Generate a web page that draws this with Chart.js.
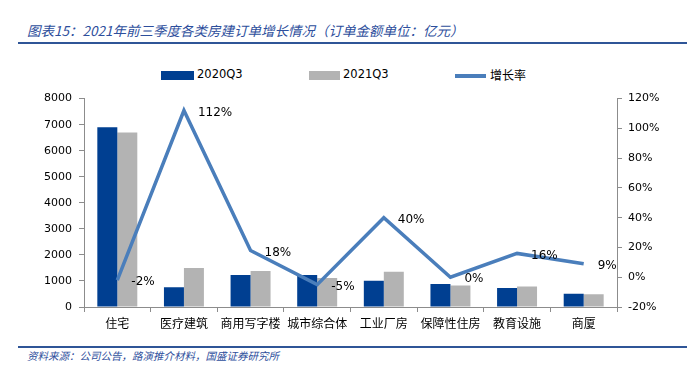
<!DOCTYPE html>
<html>
<head>
<meta charset="utf-8">
<script src="https://cdn.jsdelivr.net/npm/chart.js@4.4.0/dist/chart.umd.min.js"></script>
<style>
    body { margin: 0; background: #fff; width: 687px; height: 371px; position: relative; overflow: hidden; }
    .title { position: absolute; left: 27px; top: 20px; font: italic 13.5px "Noto Sans CJK SC", sans-serif; color: #2D4E9C; white-space: nowrap; }
    .rule { position: absolute; left: 18px; right: 0; height: 2px; background: #2F5597; }
    .source { position: absolute; left: 27px; font: italic 10.5px "Noto Sans CJK SC", sans-serif; color: #2D4E9C; white-space: nowrap; }
    .legend { position: absolute; top: 66px; font: 11.5px "DejaVu Sans", sans-serif; color: #000; }
    .legend span { position: absolute; white-space: nowrap; }
    #wrap { position: absolute; left: 0; top: 85px; width: 687px; height: 260px; }
</style>
</head>
<body>
<div class="title">图表15：2021年前三季度各类房建订单增长情况（订单金额单位：亿元）</div>
<div class="rule" style="top:42px"></div>

<div class="legend">
    <span style="left:161px;top:5px;width:33px;height:9px;background:#003F91;"></span>
    <span style="left:197px;top:1px;">2020Q3</span>
    <span style="left:309px;top:5px;width:31px;height:9px;background:#B3B3B3;"></span>
    <span style="left:343px;top:1px;">2021Q3</span>
    <span style="left:455px;top:8px;width:31px;height:4px;background:#4A7EBB;"></span>
    <span style="left:490px;top:0px;font-family:'Noto Sans CJK SC';font-size:12px;">增长率</span>
</div>

<div id="wrap"><canvas id="chart"></canvas></div>

<div class="rule" style="top:346px"></div>
<div class="source" style="top:348px">资料来源：公司公告，路演推介材料，国盛证券研究所</div>

<script>
// data
var categories = ['住宅', '医疗建筑', '商用写字楼', '城市综合体', '工业厂房', '保障性住房', '教育设施', '商厦'];
var orders2020 = [6900, 755, 1225, 1230, 1010, 880, 730, 510];
var orders2021 = [6700, 1495, 1380, 1110, 1350, 830, 790, 485];
var growth = [-2, 112, 18, -5, 40, 0, 16, 9];
var leftTicks = [0, 1000, 2000, 3000, 4000, 5000, 6000, 7000, 8000];
var rightTicks = [-20, 0, 20, 40, 60, 80, 100, 120];

var axisColor = '#8C8C8C';
var tickFont = { family: 'DejaVu Sans', size: 11 };

// draws the "%"-labels to the right of each line point
var pctLabels = {
    id: 'pctLabels',
    afterDatasetsDraw: function(chart) {
        var meta = chart.getDatasetMeta(2);
        var ctx = chart.ctx;
        ctx.save();
        ctx.font = '12px "DejaVu Sans"';
        ctx.fillStyle = '#000';
        ctx.textAlign = 'left';
        ctx.textBaseline = 'middle';
        meta.data.forEach(function(pt, i) {
            ctx.fillText(growth[i] + '%', pt.x + 14, pt.y + 2);
        });
        ctx.restore();
    }
};

new Chart(document.getElementById('chart'), {
    data: {
        labels: categories,
        datasets: [
            {
                type: 'bar', label: '2020Q3', data: orders2020, yAxisID: 'y',
                backgroundColor: '#003F91', order: 1,
                categoryPercentage: 0.6, barPercentage: 1
            },
            {
                type: 'bar', label: '2021Q3', data: orders2021, yAxisID: 'y',
                backgroundColor: '#B3B3B3', order: 1,
                categoryPercentage: 0.6, barPercentage: 1
            },
            {
                type: 'line', label: '增长率', data: growth, yAxisID: 'y1',
                borderColor: '#4A7EBB', borderWidth: 3.5, pointRadius: 0,
                tension: 0, order: 0
            }
        ]
    },
    options: {
        responsive: true,
        maintainAspectRatio: false,
        animation: false,
        layout: { padding: { top: 13, bottom: 0, left: 0, right: 0 } },
        plugins: { legend: { display: false }, tooltip: { enabled: false } },
        scales: {
            x: {
                grid: { offset: true, drawOnChartArea: false, tickLength: 5, color: axisColor },
                border: { color: axisColor },
                ticks: { color: '#000', font: { family: 'Noto Sans CJK SC', size: 12 }, maxRotation: 0, autoSkip: false, padding: 4 },
                afterFit: function(s) { s.height = 38; }
            },
            y: {
                position: 'left', min: 0, max: 8000,
                grid: { drawOnChartArea: false, tickLength: 5, color: axisColor },
                border: { color: axisColor },
                afterBuildTicks: function(s) { s.ticks = leftTicks.map(function(v) { return { value: v }; }); },
                ticks: { color: '#000', font: tickFont, padding: 7, callback: function(v) { return String(v); } },
                afterFit: function(s) { s.width = 84; }
            },
            y1: {
                position: 'right', min: -20, max: 120,
                grid: { drawOnChartArea: false, tickLength: 5, color: axisColor },
                border: { color: axisColor },
                afterBuildTicks: function(s) { s.ticks = rightTicks.map(function(v) { return { value: v }; }); },
                ticks: { color: '#000', font: tickFont, padding: 6, callback: function(v) { return v + '%'; } },
                afterFit: function(s) { s.width = 70; }
            }
        }
    },
    plugins: [pctLabels]
});
</script>
</body>
</html>
